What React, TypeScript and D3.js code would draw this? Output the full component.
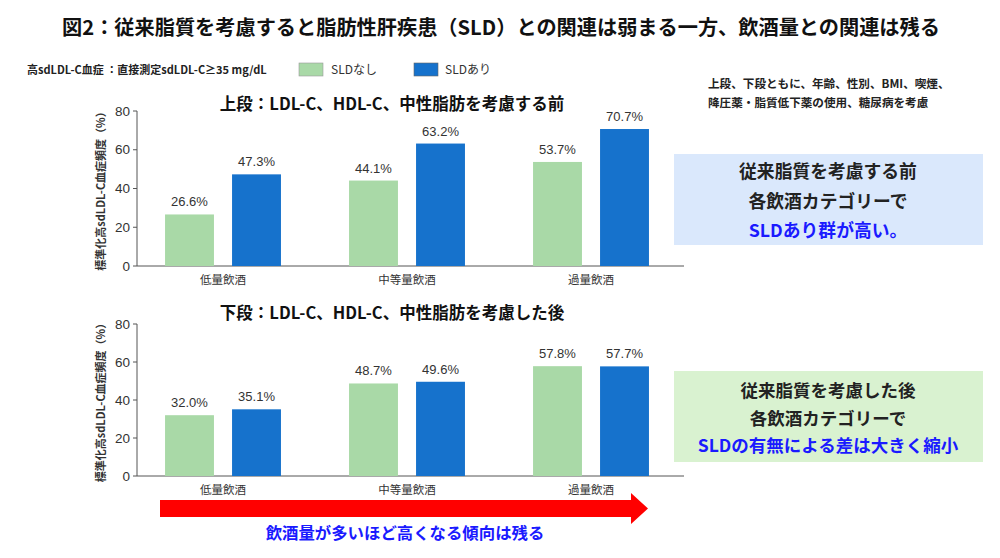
import React from 'react';
import * as d3 from 'd3';

const categories = ['低量飲酒', '中等量飲酒', '過量飲酒'];
const seriesNames = ['SLDなし', 'SLDあり'];
const beforeNoSLD = [26.6, 44.1, 53.7];
const beforeSLD = [47.3, 63.2, 70.7];
const afterNoSLD = [32.0, 48.7, 57.8];
const afterSLD = [35.1, 49.6, 57.7];
const yTicks = [0, 20, 40, 60, 80];

const GREEN = '#a9d9a7';
const BLUE = '#1672cc';
const CJK = '"Noto Sans CJK JP", "Noto Sans", sans-serif';
const NUM = '"Liberation Sans", Arial, "Noto Sans CJK JP", sans-serif';

function Panel({ yTop, yBottom, title, titleY, a, b }: { yTop: number; yBottom: number; title: string; titleY: number; a: number[]; b: number[] }) {
  const y = d3.scaleLinear().domain([0, 80]).range([yBottom, yTop]);
  const x0 = d3.scaleBand().domain(categories).range([131, 683]).paddingInner(0.37).paddingOuter(0.185);
  const x1 = d3.scaleBand().domain(seriesNames).range([0, x0.bandwidth()]).paddingInner(0.27);
  const axisX = 137;
  const vals = [a, b];
  const colors = [GREEN, BLUE];
  return (
    <g>
      <text x={392} y={titleY} textAnchor="middle" fontFamily={CJK} fontWeight={700} fontSize={16.5} fill="#111">{title}</text>
      <line x1={axisX} x2={axisX} y1={yTop} y2={yBottom} stroke="#555" strokeWidth={1} />
      <line x1={axisX} x2={684} y1={yBottom} y2={yBottom} stroke="#555" strokeWidth={1} />
      {yTicks.map(t => (
        <g key={t}>
          <line x1={axisX - 4} x2={axisX} y1={y(t)} y2={y(t)} stroke="#555" />
          <text x={axisX - 7} y={y(t)} dy="0.35em" textAnchor="end" fontFamily={NUM} fontSize={13.5} fill="#333">{t}</text>
        </g>
      ))}
      <text transform={`translate(105,${(yTop + yBottom) / 2}) rotate(-90)`} textAnchor="middle" fontFamily={CJK} fontWeight={700} fontSize={11} fill="#333">標準化高sdLDL-C血症頻度（%）</text>
      {categories.map((c, i) => (
        <g key={c}>
          {seriesNames.map((s, j) => {
            const v = vals[j][i];
            const bx = (x0(c) as number) + (x1(s) as number);
            return (
              <g key={s}>
                <rect x={bx} y={y(v)} width={x1.bandwidth()} height={yBottom - y(v)} fill={colors[j]} />
                <text x={bx + x1.bandwidth() / 2} y={y(v) - 8} textAnchor="middle" fontFamily={NUM} fontSize={13} fill="#333">{v.toFixed(1)}%</text>
              </g>
            );
          })}
          <text x={(x0(c) as number) + x0.bandwidth() / 2} y={yBottom + 18} textAnchor="middle" fontFamily={CJK} fontSize={11.5} fill="#333">{categories[i]}</text>
        </g>
      ))}
    </g>
  );
}

export default function App() {
  return (
    <svg width={1000} height={558} style={{ position: 'absolute', left: 0, top: 0, background: '#fff' }} fontFamily={CJK}>
      <rect width={1000} height={558} fill="#fff" />
      <text x={501} y={35} textAnchor="middle" fontFamily={CJK} fontWeight={700} fontSize={20.2} fill="#111">図2：従来脂質を考慮すると脂肪性肝疾患（SLD）との関連は弱まる一方、飲酒量との関連は残る</text>
      <text x={27} y={74} fontFamily={CJK} fontWeight={700} fontSize={11} fill="#222">高sdLDL-C血症 ：直接測定sdLDL-C≥35 mg/dL</text>
      <rect x={299} y={63} width={24} height={13} fill={GREEN} stroke="#999" strokeWidth={0.6} />
      <text x={331} y={74} fontFamily={CJK} fontSize={12} fill="#333">{seriesNames[0]}</text>
      <rect x={414} y={63} width={24} height={13} fill={BLUE} stroke="#666" strokeWidth={0.6} />
      <text x={445} y={74} fontFamily={CJK} fontSize={12} fill="#333">{seriesNames[1]}</text>

      <text x={708} y={88} fontFamily={CJK} fontWeight={700} fontSize={11.6} fill="#222">上段、下段ともに、年齢、性別、BMI、喫煙、</text>
      <text x={708} y={107} fontFamily={CJK} fontWeight={700} fontSize={11.6} fill="#222">降圧薬・脂質低下薬の使用、糖尿病を考慮</text>

      <Panel yTop={111} yBottom={266} title="上段：LDL-C、HDL-C、中性脂肪を考慮する前" titleY={110} a={beforeNoSLD} b={beforeSLD} />
      <Panel yTop={324} yBottom={476} title="下段：LDL-C、HDL-C、中性脂肪を考慮した後" titleY={319} a={afterNoSLD} b={afterSLD} />

      <rect x={674} y={154} width={309} height={91} fill="#dae8fc" />
      <g textAnchor="middle" fontFamily={CJK} fontWeight={700} fontSize={17.8}>
        <text x={828} y={178} fill="#222">従来脂質を考慮する前</text>
        <text x={828} y={208} fill="#222">各飲酒カテゴリーで</text>
        <text x={828} y={237} fill="#1a1aff">SLDあり群が高い。</text>
      </g>

      <rect x={674} y={371} width={309} height={91} fill="#d9f2d0" />
      <g textAnchor="middle" fontFamily={CJK} fontWeight={700} fontSize={17.5}>
        <text x={828} y={397} fill="#222">従来脂質を考慮した後</text>
        <text x={828} y={425} fill="#222">各飲酒カテゴリーで</text>
        <text x={828} y={452} fill="#1a1aff">SLDの有無による差は大きく縮小</text>
      </g>

      <path d="M160,500 L631,500 L631,493 L648,508.5 L631,524 L631,517 L160,517 Z" fill="#ff0000" />
      <text x={405} y={539} textAnchor="middle" fontFamily={CJK} fontWeight={700} fontSize={16.4} fill="#1a1aff">飲酒量が多いほど高くなる傾向は残る</text>
    </svg>
  );
}
